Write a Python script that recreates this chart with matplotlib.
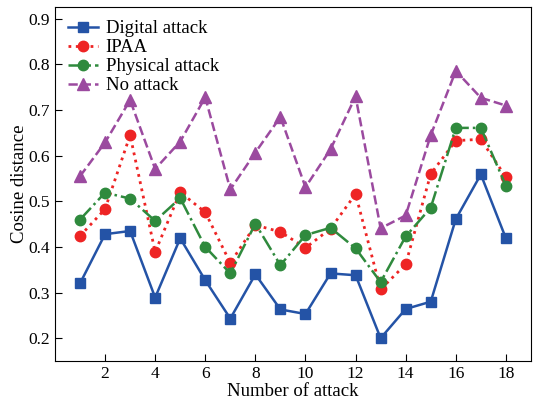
import matplotlib
matplotlib.use("Agg")
import matplotlib.pyplot as plt

plt.rcParams["font.family"] = ["Liberation Serif", "DejaVu Serif"]

attack_no = list(range(1, 19))
digital = [0.32, 0.428, 0.435, 0.289, 0.419, 0.327, 0.243, 0.340, 0.263,
           0.253, 0.342, 0.338, 0.200, 0.264, 0.280, 0.461, 0.559, 0.419]
ipaa = [0.424, 0.483, 0.645, 0.389, 0.520, 0.476, 0.365, 0.448, 0.433,
        0.398, 0.440, 0.516, 0.307, 0.362, 0.560, 0.633, 0.636, 0.553]
physical = [0.460, 0.519, 0.506, 0.457, 0.507, 0.400, 0.342, 0.451, 0.360,
            0.426, 0.442, 0.397, 0.323, 0.423, 0.486, 0.661, 0.661, 0.534]
no_attack = [0.555, 0.629, 0.722, 0.571, 0.631, 0.728, 0.526, 0.607, 0.685,
             0.531, 0.614, 0.730, 0.441, 0.469, 0.645, 0.786, 0.727, 0.710]

fig = plt.figure(figsize=(5.44, 4.0), dpi=100)
ax = fig.add_axes([0.101, 0.0975, 0.875, 0.885])

ax.plot(attack_no, digital, color="#2453a6", ls="-", lw=1.8, marker="s", ms=7,
        label="Digital attack")
ax.plot(attack_no, ipaa, color="#ee2424", ls=":", lw=2.0, marker="o", ms=7.5,
        label="IPAA")
ax.plot(attack_no, physical, color="#2f8a3d", ls="-.", lw=1.8, marker="o", ms=7.5,
        label="Physical attack")
ax.plot(attack_no, no_attack, color="#9b4a9f", ls="--", lw=1.8, marker="^", ms=8,
        label="No attack")

ax.set_xlim(0, 19)
ax.set_ylim(0.15, 0.926)
ax.set_xticks(range(2, 19, 2))
ax.set_yticks([0.2, 0.3, 0.4, 0.5, 0.6, 0.7, 0.8, 0.9])
ax.tick_params(direction="in", labelsize=12.5, length=5)
ax.set_xlabel("Number of attack", fontsize=13.5, labelpad=1)
ax.set_ylabel("Cosine distance", fontsize=13.5, labelpad=0)
ax.legend(loc="upper left", frameon=False, fontsize=13.5, handlelength=1.6,
          borderaxespad=0.35, labelspacing=0.1, handletextpad=0.4,
          borderpad=0.35)

fig.savefig("out.png", dpi=100)
